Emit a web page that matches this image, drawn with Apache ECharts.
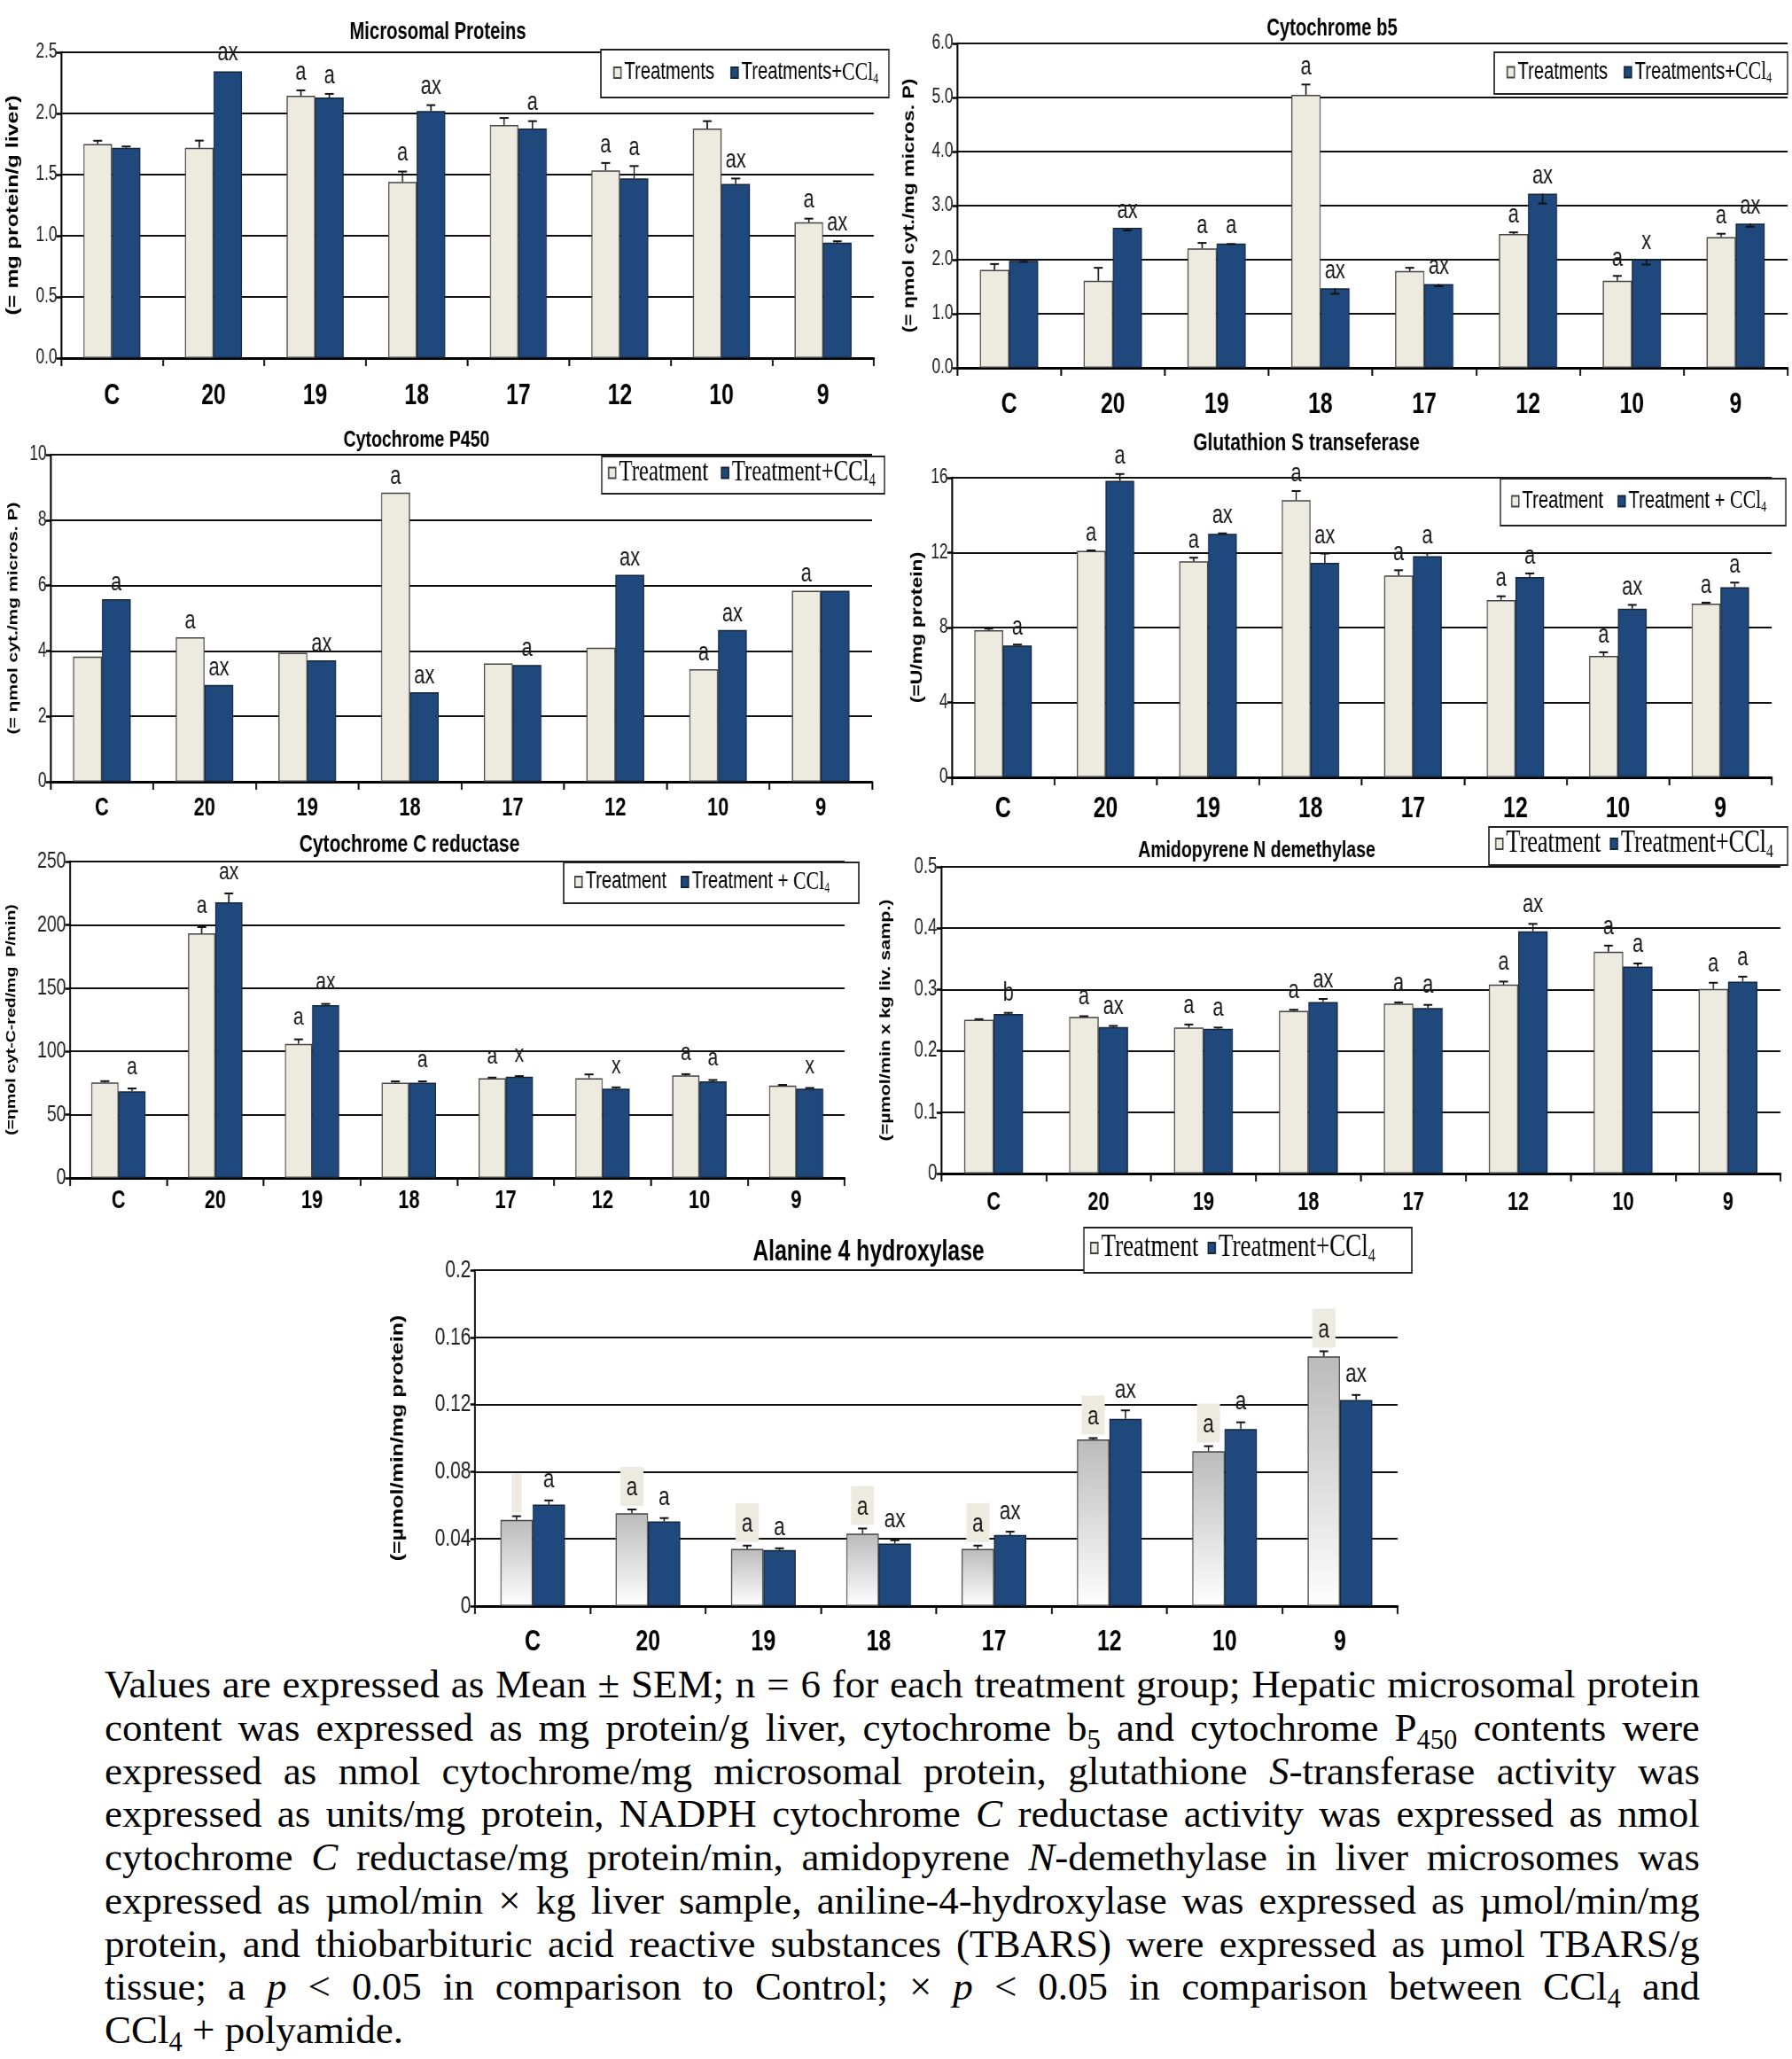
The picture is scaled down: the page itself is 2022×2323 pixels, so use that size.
<!DOCTYPE html>
<html><head><meta charset="utf-8">
<script src="https://cdn.jsdelivr.net/npm/echarts@6/dist/echarts.min.js"></script>
<style>
html,body{margin:0;padding:0;background:#fff;width:2022px;height:2323px;overflow:hidden}
#chart{position:absolute;left:0;top:0;width:2696px;height:1870px;transform:scaleX(0.75);transform-origin:0 0}
#cap{position:absolute;left:118px;top:1876px;width:1800px;font-family:"Liberation Serif","Times New Roman",serif;font-size:45px;line-height:48.75px;color:#000}
#cap div.j{display:flex;justify-content:space-between;white-space:nowrap;column-gap:0.18em}
#cap div.last{white-space:nowrap}
#cap sub{font-size:0.68em;line-height:0;vertical-align:baseline;position:relative;top:0.3em}
</style></head>
<body>
<div id="chart"></div>
<div id="cap">
<div class="j">Values are expressed as Mean ± SEM; n = 6 for each treatment group; Hepatic microsomal protein</div>
<div class="j">content was expressed as mg protein/g liver, cytochrome b<sub>5</sub> and cytochrome P<sub>450</sub> contents were</div>
<div class="j">expressed as nmol cytochrome/mg microsomal protein, glutathione <i>S</i>-transferase activity was</div>
<div class="j">expressed as units/mg protein, NADPH cytochrome <i>C</i> reductase activity was expressed as nmol</div>
<div class="j">cytochrome <i>C</i> reductase/mg protein/min, amidopyrene <i>N</i>-demethylase in liver microsomes was</div>
<div class="j">expressed as µmol/min × kg liver sample, aniline-4-hydroxylase was expressed as µmol/min/mg</div>
<div class="j">protein, and thiobarbituric acid reactive substances (TBARS) were expressed as µmol TBARS/g</div>
<div class="j">tissue; a <i>p</i> &lt; 0.05 in comparison to Control; × <i>p</i> &lt; 0.05 in comparison between CCl<sub>4</sub> and</div>
<div class="last">CCl<sub>4</sub> + polyamide.</div>
</div>
<script>
document.querySelectorAll('#cap div.j').forEach(d => {
  d.innerHTML = d.innerHTML.trim().split(' ').map(w => '<span>' + w + '</span>').join('');
});

const S = 0.75;
const X = v => v / S;

const categories = ['C', '20', '19', '18', '17', '12', '10', '9'];

// Microsomal proteins
const mpLight = [1.75, 1.72, 2.145, 1.44, 1.905, 1.535, 1.877, 1.11];
const mpDark = [1.72, 2.345, 2.13, 2.02, 1.877, 1.47, 1.424, 0.943];
const mpLightErr = [0.027, 0.058, 0.044, 0.085, 0.058, 0.06, 0.06, 0.03];
const mpDarkErr = [0.01, 0.0, 0.03, 0.048, 0.06, 0.1, 0.044, 0.012];
const mpLightSig = ['', '', 'a', 'a', '', 'a', '', 'a'];
const mpDarkSig = ['', 'ax', 'a', 'ax', 'a', 'a', 'ax', 'ax'];
const mpTicks = ['0.0', '0.5', '1.0', '1.5', '2.0', '2.5'];

// Cytochrome b5
const b5Light = [1.81, 1.61, 2.21, 5.05, 1.79, 2.475, 1.61, 2.42];
const b5Dark = [1.98, 2.59, 2.30, 1.47, 1.55, 3.22, 2.01, 2.67];
const b5LightErr = [0.11, 0.24, 0.1, 0.19, 0.06, 0.03, 0.09, 0.06];
const b5DarkErr = [0.02, 0.05, 0.01, 0.1, 0.04, 0.18, 0.1, 0.06];
const b5LightSig = ['', '', 'a', 'a', '', 'a', 'a', 'a'];
const b5DarkSig = ['', 'ax', 'a', 'ax', 'ax', 'ax', 'x', 'ax'];
const b5Ticks = ['0.0', '1.0', '2.0', '3.0', '4.0', '5.0', '6.0'];

// Cytochrome P450
const p450Light = [3.83, 4.42, 3.94, 8.84, 3.62, 4.10, 3.44, 5.84];
const p450Dark = [5.58, 2.96, 3.71, 2.74, 3.57, 6.33, 4.64, 5.84];
const p450LightErr = [0, 0, 0, 0, 0, 0, 0, 0];
const p450DarkErr = [0, 0, 0, 0, 0, 0, 0, 0];
const p450LightSig = ['', 'a', '', 'a', '', '', 'a', 'a'];
const p450DarkSig = ['a', 'ax', 'ax', 'ax', 'a', 'ax', 'ax', ''];
const p450Ticks = ['0', '2', '4', '6', '8', '10'];

// Glutathion S transferase
const gstLight = [7.86, 12.09, 11.54, 14.8, 10.78, 9.47, 6.48, 9.28];
const gstDark = [7.04, 15.84, 13.01, 11.45, 11.81, 10.70, 9.01, 10.15];
const gstLightErr = [0.08, 0.03, 0.19, 0.49, 0.28, 0.2, 0.2, 0.05];
const gstDarkErr = [0.05, 0.36, 0.02, 0.5, 0.16, 0.19, 0.2, 0.25];
const gstLightSig = ['', 'a', 'a', 'a', 'a', 'a', 'a', 'a'];
const gstDarkSig = ['a', 'a', 'ax', 'ax', 'a', 'a', 'ax', 'a'];
const gstTicks = ['0', '4', '8', '12', '16'];

// Cytochrome C reductase
const crLight = [75.5, 193.2, 106, 75.3, 78.8, 78.8, 81, 73];
const crDark = [68.5, 217.8, 136.5, 75.3, 80, 70.6, 76.4, 70.6];
const crLightErr = [1, 5, 3.5, 1, 0.5, 3, 1, 0.5];
const crDarkErr = [2.2, 7, 1, 1, 0.5, 1, 1, 0.5];
const crLightSig = ['', 'a', 'a', '', 'a', '', 'a', ''];
const crDarkSig = ['a', 'ax', 'ax', 'a', 'x', 'x', 'a', 'x'];
const crTicks = ['0', '50', '100', '150', '200', '250'];

// Amidopyrene N demethylase
const amLight = [0.2507, 0.2555, 0.238, 0.265, 0.277, 0.308, 0.3616, 0.301];
const amDark = [0.26, 0.2387, 0.236, 0.2797, 0.270, 0.395, 0.3375, 0.313];
const amLightErr = [0.001, 0.001, 0.005, 0.002, 0.002, 0.005, 0.01, 0.01];
const amDarkErr = [0.002, 0.002, 0.002, 0.005, 0.005, 0.012, 0.005, 0.008];
const amLightSig = ['', 'a', 'a', 'a', 'a', 'a', 'a', 'a'];
const amDarkSig = ['b', 'ax', 'a', 'ax', 'a', 'ax', 'a', 'a'];
const amTicks = ['0', '0.1', '0.2', '0.3', '0.4', '0.5'];

// Alanine 4 hydroxylase
const alLight = [0.0513, 0.0553, 0.034, 0.0432, 0.034, 0.0992, 0.0922, 0.1487];
const alDark = [0.0604, 0.0504, 0.0334, 0.0372, 0.0423, 0.1115, 0.1054, 0.1227];
const alLightErr = [0.0022, 0.0022, 0.002, 0.003, 0.002, 0.0008, 0.003, 0.003];
const alDarkErr = [0.0025, 0.002, 0.001, 0.002, 0.002, 0.005, 0.004, 0.003];
const alLightSig = ['', 'a', 'a', 'a', 'a', 'a', 'a', 'a'];
const alDarkSig = ['a', 'a', 'a', 'ax', 'ax', 'ax', 'a', 'ax'];
const alTicks = ['0', '0.04', '0.08', '0.12', '0.16', '0.2'];

const namesS = ['Treatments', 'Treatments+CCl4'];
const namesT = ['Treatment', 'Treatment+CCl4'];
const namesSp = ['Treatment', 'Treatment + CCl4'];

const SANS = '"Liberation Sans", Arial, sans-serif';
const SERIF = '"Liberation Serif", "Times New Roman", serif';
const CREAM = '#EDEBE0', NAVY = '#1F497D';
const GRAD = {type: 'linear', x: 0, y: 0, x2: 0, y2: 1, colorStops: [{offset: 0, color: '#BBBBBB'}, {offset: 1, color: '#FFFFFF'}]};

const panels = [
  {title: 'Microsomal Proteins', tSize: 27, tx: 494, ty: 37, grid: [69, 59, 986, 404], max: 2.5, interval: 0.5, ticks: mpTicks,
   yName: '(= mg protein/g liver)', yNameSize: 25, yNameX: 16,
   light: mpLight, dark: mpDark, lightErr: mpLightErr, darkErr: mpDarkErr, lightSig: mpLightSig, darkSig: mpDarkSig,
   names: namesS, lFont: SANS, lSize: 27, lBox: [678, 56, 1003, 110], lPad: 14, lGap: 18,
   tickSize: 23, xSize: 33, xMargin: 26, gap: 11, sigSize: 29},
  {title: 'Cytochrome b5', tSize: 27, tx: 1503, ty: 33, grid: [1080, 49, 2017, 415], max: 6, interval: 1, ticks: b5Ticks,
   yName: '(= ηmol cyt./mg micros. P)', yNameSize: 23, yNameX: 1027,
   light: b5Light, dark: b5Dark, lightErr: b5LightErr, darkErr: b5DarkErr, lightSig: b5LightSig, darkSig: b5DarkSig, darkDir: -1,
   names: namesS, lFont: SANS, lSize: 27, lBox: [1686, 59, 2017, 106], lPad: 14, lGap: 18,
   tickSize: 23, xSize: 33, xMargin: 25, gap: 10, sigSize: 29},
  {title: 'Cytochrome P450', tSize: 26, tx: 470, ty: 497, grid: [57, 513, 984, 882], max: 10, interval: 2, ticks: p450Ticks,
   yName: '(= ηmol cyt./mg micros. P)', yNameSize: 21, yNameX: 16,
   light: p450Light, dark: p450Dark, lightErr: p450LightErr, darkErr: p450DarkErr, lightSig: p450LightSig, darkSig: p450DarkSig,
   names: namesT, lFont: SERIF, lSize: 33, lBox: [679, 515, 998, 557], lPad: 7, lGap: 14,
   tickSize: 23, xSize: 29, xMargin: 15, gap: 9, sigSize: 29},
  {title: 'Glutathion S transeferase', tSize: 28, tx: 1474, ty: 500, grid: [1074, 539, 1999, 877], max: 16, interval: 4, ticks: gstTicks,
   yName: '(=U/mg protein)', yNameSize: 23, yNameX: 1036,
   light: gstLight, dark: gstDark, lightErr: gstLightErr, darkErr: gstDarkErr, lightSig: gstLightSig, darkSig: gstDarkSig,
   names: namesSp, lFont: SANS, lSize: 27, lBox: [1693, 540, 2015, 593], lPad: 12, lGap: 16,
   tickSize: 23, xSize: 33, xMargin: 19, gap: 10, sigSize: 29},
  {title: 'Cytochrome C reductase', tSize: 28, tx: 462, ty: 953, grid: [79, 972, 953, 1329], max: 250, interval: 50, ticks: crTicks,
   yName: '(=ηmol cyt-C-red/mg  P/min)', yNameSize: 19.5, yNameX: 14,
   light: crLight, dark: crDark, lightErr: crLightErr, darkErr: crDarkErr, lightSig: crLightSig, darkSig: crDarkSig,
   names: namesSp, lFont: SANS, lSize: 27, lBox: [636, 973, 969, 1019], lPad: 12, lGap: 16,
   tickSize: 26, xSize: 29, xMargin: 11, gap: 15, sigSize: 28},
  {title: 'Amidopyrene N demethylase', tSize: 26, tx: 1418, ty: 960, grid: [1062, 978, 2009, 1324], max: 0.5, interval: 0.1, ticks: amTicks,
   yName: '(=µmol/min x kg liv. samp.)', yNameSize: 21.5, yNameX: 1001,
   light: amLight, dark: amDark, lightErr: amLightErr, darkErr: amDarkErr, lightSig: amLightSig, darkSig: amDarkSig,
   names: namesT, lFont: SERIF, lSize: 35, lBox: [1680, 933, 2017, 976], lPad: 7, lGap: 10,
   tickSize: 25, xSize: 29, xMargin: 18, gap: 12, sigSize: 29},
  {title: 'Alanine 4 hydroxylase', tSize: 33, tx: 980, ty: 1413, grid: [536, 1433, 1577, 1812], max: 0.2, interval: 0.04, ticks: alTicks,
   yName: '(=µmol/min/mg protein)', yNameSize: 25, yNameX: 450,
   light: alLight, dark: alDark, lightErr: alLightErr, darkErr: alDarkErr, lightSig: alLightSig, darkSig: alDarkSig,
   boxed: true, lightColor: GRAD,
   names: namesT, lFont: SERIF, lSize: 36, lBox: [1223, 1385, 1593, 1436], lPad: 7, lGap: 10,
   tickSize: 28, xSize: 33, xMargin: 24, gap: 13, sigSize: 30}
];

const option = {animation: false, backgroundColor: '#fff', title: [], grid: [], xAxis: [], yAxis: [], series: [], legend: [], graphic: []};

panels.forEach((p, k) => {
  const [gl, gt, gr, gb] = p.grid;
  option.grid.push({left: X(gl), top: gt, width: X(gr - gl), height: gb - gt});
  option.title.push({text: p.title, left: X(p.tx), top: p.ty, textAlign: 'center', textVerticalAlign: 'middle', padding: 0,
    textStyle: {fontFamily: SANS, fontWeight: 'bold', fontSize: p.tSize, color: '#000'}});
  option.xAxis.push({type: 'category', gridIndex: k, data: categories, boundaryGap: true,
    axisLine: {lineStyle: {color: '#000', width: 3}},
    axisTick: {show: true, length: 9, lineStyle: {color: '#000', width: 2.5}},
    axisLabel: {margin: p.xMargin, fontFamily: SANS, fontWeight: 'bold', fontSize: p.xSize, color: '#000'},
    splitLine: {show: false}});
  option.yAxis.push({type: 'value', gridIndex: k, min: 0, max: p.max, interval: p.interval,
    axisLine: {show: true, lineStyle: {color: '#000', width: 2.6}},
    axisTick: {show: true, length: 7, lineStyle: {color: '#000', width: 2.5}},
    axisLabel: {fontFamily: SANS, fontSize: p.tickSize, color: '#222', margin: 6,
      formatter: v => p.ticks[Math.round(v / p.interval)]},
    splitLine: {show: true, lineStyle: {color: '#111', width: 2}},
    name: p.yName, nameLocation: 'middle', nameRotate: 90,
    nameGap: (gl - p.yNameX) / S - p.yNameSize * 0.45,
    nameTextStyle: {fontFamily: SANS, fontWeight: 'bold', fontSize: p.yNameSize, color: '#000'}});

  option.series.push({type: 'bar', name: p.names[0], xAxisIndex: k, yAxisIndex: k, data: p.light,
    barWidth: '28%', barGap: '0%', z: 2,
    itemStyle: {color: p.lightColor || CREAM, borderColor: '#444', borderWidth: 1.5}});
  option.series.push({type: 'bar', name: p.names[1], xAxisIndex: k, yAxisIndex: k, data: p.dark,
    barWidth: '28%', barGap: '0%', z: 2,
    itemStyle: {color: NAVY, borderColor: '#15253a', borderWidth: 1.5}});

  [[p.light, p.lightErr, p.lightSig, -1, 1, !!p.boxed], [p.dark, p.darkErr, p.darkSig, 1, p.darkDir || 1, false]]
    .forEach(([vals, errs, sigs, side, dir, boxed]) => {
      option.series.push({type: 'custom', xAxisIndex: k, yAxisIndex: k, z: 5, silent: true, clip: false,
        data: vals.map((v, i) => [i, v, errs[i]]),
        renderItem: (params, api) => {
          const i = api.value(0), v = api.value(1), e = api.value(2);
          const band = api.size([1, 0])[0];
          const bw = band * 0.28;
          const base = api.coord([i, v]);
          const cx = base[0] + side * bw / 2;
          const yv = base[1];
          const children = [];
          let yTop = yv;
          if (e > 0) {
            const ye = api.coord([i, v + dir * e])[1];
            children.push({type: 'line', shape: {x1: cx, y1: yv, x2: cx, y2: ye}, style: {stroke: '#111', lineWidth: 2}});
            children.push({type: 'line', shape: {x1: cx - X(5), y1: ye, x2: cx + X(5), y2: ye}, style: {stroke: '#111', lineWidth: 2}});
            if (dir > 0) yTop = ye;
          }
          const s = sigs[params.dataIndex];
          const font = p.sigSize + 'px ' + SANS;
          if (boxed) {
            const w = X(s ? 26 : 11), h = 44;
            const yb = yTop - 4;
            children.push({type: 'rect', shape: {x: cx - w / 2, y: yb - h, width: w, height: h}, style: {fill: CREAM}});
            if (s) children.push({type: 'text', style: {text: s, x: cx, y: yb - h / 2 + 2, align: 'center', verticalAlign: 'middle',
              textAlign: 'center', textVerticalAlign: 'middle', font: font, fill: '#1a1a1a'}});
          } else if (s) {
            children.push({type: 'text', style: {text: s, x: cx, y: yTop - p.gap + p.sigSize * 0.18, align: 'center', verticalAlign: 'bottom',
              textAlign: 'center', textVerticalAlign: 'bottom', font: font, fill: '#1a1a1a'}});
          }
          return {type: 'group', children: children};
        }});
    });

  const [lx0, ly0, lx1, ly1] = p.lBox;
  option.graphic.push({type: 'rect', z: 10, silent: true,
    shape: {x: X(lx0), y: ly0, width: X(lx1 - lx0), height: ly1 - ly0},
    style: {fill: '#fff', stroke: '#222', lineWidth: 2}});
  const lh = Math.round(p.lSize * 1.15);
  option.legend.push({data: p.names, left: X(lx0 + p.lPad), top: (ly0 + ly1) / 2 - lh / 2, orient: 'horizontal',
    itemWidth: X(8), itemHeight: 12, itemGap: X(p.lGap), z: 20, padding: 0, selectedMode: false, icon: 'rect',
    textStyle: {color: '#000', fontFamily: p.lFont, fontSize: p.lSize,
      rich: {
        t: {fontFamily: p.lFont, fontSize: p.lSize, lineHeight: lh, color: '#000'},
        c: {fontFamily: SERIF, fontSize: Math.round(p.lSize * (p.lFont === SERIF ? 1 : 1.08)), lineHeight: lh, color: '#000'},
        s: {fontFamily: SERIF, fontSize: Math.round(p.lSize * 0.6), lineHeight: lh, verticalAlign: 'bottom', color: '#000'}
      }},
    formatter: name => name.endsWith('CCl4') ? '{t|' + name.slice(0, -4) + '}{c|CCl}{s|4}' : '{t|' + name + '}'});
});

const chart = echarts.init(document.getElementById('chart'), null, {renderer: 'canvas'});
chart.setOption(option);
</script>
</body></html>
